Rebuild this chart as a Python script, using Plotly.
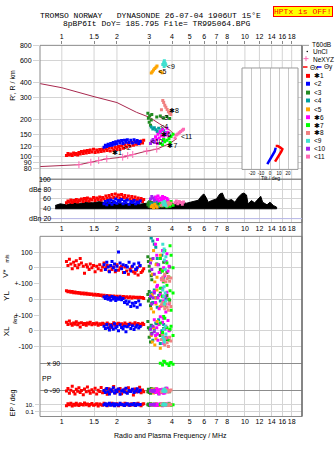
import math
import plotly.graph_objects as go

W, H = 335, 451

# ---------------- data ----------------
FREQ_TICKS = [1, 1.5, 2, 3, 4, 5, 6, 7, 8, 10, 12, 14, 16, 18]
FREQ_TICK_TEXT = ["1", "1.5", "2", "3", "4", "5", "6", "7", "8", "10", "12", "14", "16", "18"]
HEIGHT_TICKS = [80, 90, 100, 120, 150, 200, 300, 400, 600, 800]
DB_TICKS = [100, 80, 60, 40, 20]
DB_TICK_TEXT = ["100", "dBe 80", "60", "40", "dBn 20"]
V_TICKS, V_TICK_TEXT = [100, 0, -100], ["100", "0", "+-100"]
YL_TICKS, YL_TICK_TEXT = [0], ["0"]
XL_TICKS, XL_TICK_TEXT = [100, 0, -100], ["+-100", "0", "-100"]
PP_TICKS, PP_TICK_TEXT = [90, -90], ["x 90", "o -90"]
EP_TICKS, EP_TICK_TEXT = [10, 0.1], ["10.", "0.1"]
TILT_TICKS = [-20, -10, 0, 10, 20]
TILT_TICK_TEXT = ["-20", "-10", "0", "10", "20"]

# model curves (height panel)
UPPER_F = [0.76, 1.0, 1.5, 2.0, 2.56, 3.0, 3.43, 3.89, 4.14]
UPPER_H = [392, 363, 307, 275, 229, 209, 184, 164, 150]
LOWER_F = [0.76, 1.24, 1.44, 1.59, 1.76, 2.15, 2.44, 2.91, 3.30, 3.89, 4.24]
LOWER_H = [83, 86, 90, 93, 96, 99, 104, 111, 115, 128, 140]
NE_F = [1.24, 1.44, 1.59, 1.76, 2.15, 2.29, 2.44, 2.91, 3.30]
NE_H = [86, 90, 93, 96, 99, 102, 104, 111, 115]

# tilt inset
TILT_X_DEG = [6.3, 8.6, 11.1, 13.7, 12.6, 10.3, 7.8, 5.6]
TILT_X_H = [122, 122, 119, 115, 110, 103, 97, 91]
TILT_Y_DEG = [-3.0, 0.0, 2.6, 5.2, 6.3]
TILT_Y_H = [87, 94, 101, 110, 118]

# amplitude of unclassified echoes (dBe panel)
BLACK_F = [0.92, 0.98, 1.06, 1.15, 1.25, 1.37, 1.48, 1.61, 1.76, 1.91,
           2.07, 2.26, 2.45, 2.67, 2.90, 3.16, 3.43, 3.73, 4.06, 4.41,
           4.80, 5.21, 5.56, 5.81, 5.97, 6.13, 6.31, 6.58, 6.99, 7.29,
           7.53, 7.76, 8.10, 8.45, 8.82, 9.19, 9.59, 9.87, 10.2, 10.4,
           10.85, 11.3, 11.8, 12.2, 12.5, 13.2, 13.7, 14.3, 14.9]
BLACK_DB = [46.7, 50, 48, 52, 50.7, 53.3, 52, 54.7, 52, 53.3,
            51.3, 50, 52, 49.3, 51.3, 50, 53.3, 52, 50, 53.3,
            51.3, 54.7, 57.3, 66.7, 70, 63.3, 53.3, 56.7, 60, 70,
            72, 60, 56.7, 58.7, 53.3, 63.3, 70, 72, 68, 50,
            56.7, 52, 58.7, 65.3, 53.3, 48, 53.3, 46.7, 43.3]
BLACK_FLOOR = 40

# echo groups: f (MHz), h (km), amplitude (dB), V* (m/s), YL, XL (km), PP, EP (deg)
R_F = [1.06, 1.08, 1.10, 1.12, 1.14, 1.16, 1.18, 1.20, 1.22, 1.24, 1.26, 1.28,
       1.31, 1.33, 1.36, 1.38, 1.41, 1.43, 1.46, 1.49,
       1.52, 1.55, 1.58, 1.61, 1.64, 1.67, 1.70, 1.74, 1.77, 1.81,
       1.84, 1.88, 1.92, 1.96, 2.00, 2.04, 2.08, 2.12, 2.17, 2.21,
       2.26, 2.31, 2.36, 2.41, 2.46, 2.51, 2.56, 2.61, 2.66, 2.71, 2.76, 2.80]
R_H = [102, 106, 103, 105, 102, 107, 104, 106, 103, 108,
       105, 110, 106, 111, 107, 112, 108, 113, 109, 115,
       108, 113, 109, 114, 110, 115, 111, 116, 112, 118,
       111, 118, 113, 119, 114, 121, 115, 122, 117, 125,
       120, 128, 122, 130, 124, 132, 126, 133, 127, 134, 129, 136]
R_DB = [52, 56, 54, 58, 53, 57, 55, 59, 54, 58, 56, 60, 55, 61, 57, 62, 56, 60, 58, 63,
        57, 62, 59, 64, 58, 63, 60, 66, 61, 67, 62, 69, 63, 70, 64, 68, 62, 69, 63, 67,
        61, 66, 60, 65, 59, 64, 58, 62, 57, 61, 55, 59]
R_V = [40, 15, 55, 25, -5, 35, 15, 45, 0, 20, 60, 30, 10, -35, 20, 5, -10, 25, 0, 15,
       -25, 10, -5, 20, -15, 5, 30, 0, 15, -20, 10, -10, 5, -25, 20, -15, 0, 10, -30, 5,
       -20, -40, -10, 5, -25, -35, -15, -45, 10, -30, -20, -5]
R_YL = [55, 48, 52, 45, 50, 42, 46, 40, 44, 38, 42, 36, 40, 34, 38, 32, 36, 30, 34, 28,
        32, 26, 30, 24, 28, 22, 26, 20, 25, 18, 23, 16, 21, 15, 20, 14, 19, 12, 18, 11,
        17, 10, 16, 9, 15, 12, 14, 8, 13, 10, 12, 6]
R_XL = [55, 40, 62, 45, 35, 50, 42, 58, 38, 48, 25, 52, 40, 46, 36, 50, 44, 55, 38, 47,
        42, 50, 35, 45, 40, 48, 44, 38, 50, 42, 22, 40, 52, 36, 44, 48, 40, 45, 38, 50,
        42, 36, 48, 40, 44, 52, 38, 46, 42, 35, 48, 40]
R_PP = [-90, -75, -105, -85, -60, -95, -110, -80, -92, -70, -100, -88, -115, -78, -95, -65,
        -90, -105, -82, -98, -72, -110, -86, -94, -68, -102, -90, -80, -112, -76, -96, -88,
        -62, -104, -84, -92, -74, -108, -90, -80, -100, -70, -94, -86, -116, -78, -98, -90,
        -66, -102, -84, -96]
R_EP = [5, 18, 10, 28, 4, 14, 7, 24, 10, 6, 20, 12, 8, 30, 10, 16, 5, 12, 22, 7,
        10, 20, 4, 16, 10, 7, 26, 12, 5, 15, 10, 24, 7, 13, 20, 5, 10, 16, 8, 28,
        10, 13, 6, 20, 10, 7, 16, 24, 10, 5, 13, 18]

B_F = [1.70, 1.73, 1.76, 1.79, 1.82, 1.85, 1.88, 1.91, 1.94, 1.97, 2.00, 2.04, 2.08,
       2.12, 2.16, 2.20, 2.24, 2.28, 2.33, 2.38, 2.43, 2.48, 2.53, 2.58, 2.63, 2.68]
B_H = [119, 124, 121, 126, 123, 128, 124, 130, 126, 132, 127, 134, 129,
       135, 128, 136, 131, 137, 130, 136, 129, 137, 131, 135, 128, 133]
B_DB = [50, 55, 48, 57, 52, 58, 49, 56, 53, 60, 51, 57, 54, 59, 50, 56, 52, 58, 49, 55,
        53, 57, 50, 54, 52, 56]
B_V = [20, -10, 35, 5, -25, 15, 40, 0, 25, -15, 10, 100, 30, -5, 20, -30, 15, 5, 35, -20,
       10, 25, -10, 0, 30, 15]
B_YL = [15, 5, 20, 0, 10, -5, 18, 2, 12, -8, 8, 0, 14, -3, 6, -20, -10, -30, -15, -45,
        -25, -40, -20, -50, -10, -35]
B_XL = [30, 15, 40, 20, 5, 35, 25, 10, 45, 18, 28, 0, 38, 22, 12, 30, -5, 26, 40, 15,
        32, 8, 24, 36, 18, 28]
B_PP = [-88, -100, -75, -95, -110, -82, -92, -70, -104, -86, -96, -78, -112, -90, -84,
        -98, -72, -106, -88, -94, -80, -100, -90, -76, -96, -86]
B_EP = [10, 20, 6, 14, 25, 7, 12, 18, 5, 16, 10, 8, 24, 12, 10, 6, 16, 20, 7, 13,
        10, 22, 6, 15, 10, 12]

G_F = [2.95, 2.97, 3.00, 3.02, 3.05, 3.08, 3.10, 3.30, 3.45, 3.60, 3.75, 3.88]
G_H = [225, 205, 190, 215, 180, 198, 220, 210, 214, 206, 212, 204]
G_DB = [48, 52, 45, 55, 50, 47, 53, 50, 46, 52, 48, 51]
G_V = [70, 40, 10, -20, 55, -50, -75, 25, -10, 35, -30, 5]
G_YL = [30, -10, 50, 5, -40, 20, -25, 10, 40, -15, 25, -5]
G_XL = [60, 20, -40, 10, -70, 35, -15, 45, -30, 15, -55, 5]
G_PP = [-95, -80, -100, -88, -105, -75, -92, -85, -98, -90, -82, -96]
G_EP = [10, 16, 6, 12, 20, 8, 14, 10, 7, 18, 9, 12]

T_F = [3.08, 3.14, 3.20, 3.26, 3.32, 3.38, 3.45, 3.52, 3.60, 3.70]
T_H = [174, 168, 172, 165, 160, 170, 158, 166, 162, 156]
T_DB = [50, 46, 53, 48, 55, 45, 51, 49, 54, 47]
T_V = [190, 170, 150, 130, 60, 20, -30, 80, -60, 40]
T_YL = [40, -20, 60, 10, -50, 25, -10, 70, -35, 5]
T_XL = [30, -60, 10, 50, -20, 70, -80, 0, 40, -40]
T_PP = [-85, -95, -78, -100, -90, -108, -82, -94, -88, -72]
T_EP = [12, 8, 16, 10, 14, 6, 10, 20, 8, 12]

O_F = [3.08, 3.12, 3.17, 3.22, 3.27, 3.31, 3.45, 3.53]
O_H = [478, 490, 505, 520, 533, 545, 492, 480]
O_DB = [44, 47, 42, 49, 45, 43, 48, 46]
O_V = [50, -40, 110, -90, 20, -60, 80, -20]
O_YL = [-60, 30, -80, 10, -30, 60, -45, 20]
O_XL = [-30, -70, 20, -90, -50, 60, -110, -20]
O_PP = [-92, -80, -104, -88, -76, -98, -86, -100]
O_EP = [10, 14, 7, 12, 18, 10, 6, 13]

M_F = [3.20, 3.25, 3.30, 3.35, 3.40, 3.45, 3.50, 3.55, 3.60, 3.65, 3.70, 3.75, 3.80, 3.85, 3.33, 3.58]
M_H = [132, 145, 138, 152, 142, 160, 148, 165, 140, 155, 150, 170, 158, 146, 128, 135]
M_DB = [58, 64, 60, 66, 56, 62, 59, 65, 57, 63, 55, 61, 58, 54, 60, 62]
M_V = [230, 150, 80, 20, -30, 60, -70, 110, 0, -50, 40, 90, -20, 10, 180, -90]
M_YL = [50, -20, 80, 10, -60, 30, -40, 65, -10, 20, -80, 45, 0, -30, 90, 15]
M_XL = [70, -30, 20, -60, 40, 90, -10, 55, -80, 10, 30, -45, 65, 0, -20, 80]
M_PP = [-88, -100, -76, -94, -110, -84, -98, -80, -92, -104, -86, -72, -96, -90, -82, -106]
M_EP = [10, 6, 16, 8, 12, 20, 10, 5, 14, 8, 18, 10, 7, 24, 10, 9]

L_F = [3.45, 3.55, 3.65, 3.75, 3.85, 3.95, 4.05, 3.60, 3.90]
L_H = [128, 125, 132, 136, 140, 146, 152, 138, 130]
L_DB = [50, 46, 52, 44, 48, 55, 47, 51, 45]
L_V = [60, -20, 110, 30, -60, 80, 0, -90, 140]
L_YL = [70, 20, -40, 90, 0, -70, 40, -20, 55]
L_XL = [50, -10, 80, 20, -60, 30, -30, 95, 10]
L_PP = [90, 80, 100, 88, 76, 96, 84, 104, 92]
L_EP = [12, 8, 16, 10, 20, 7, 10, 14, 9]

S_F = [3.56, 3.60, 3.65, 3.70, 3.76, 3.82, 3.88, 3.94, 3.50]
S_H = [286, 275, 262, 252, 242, 232, 225, 220, 240]
S_DB = [52, 48, 55, 50, 46, 53, 49, 51, 47]
S_V = [-60, -80, -40, -90, -70, -55, -85, -65, -75]
S_YL = [-20, -40, -60, -30, -50, -70, -25, -45, -35]
S_XL = [-30, -60, -90, -45, -75, -100, -40, -65, -55]
S_PP = [-90, -86, -94, -80, -98, -88, -92, -84, -96]
S_EP = [10, 13, 8, 16, 10, 6, 13, 10, 18]

Q_F = [3.56, 3.60, 3.63, 3.67, 3.70, 3.62]
Q_H = [560, 580, 600, 575, 555, 540]
Q_DB = [52, 48, 55, 50, 46, 53]
Q_V = [150, 100, 50, -10, 70, 120]
Q_YL = [60, 20, -30, 40, -10, 80]
Q_XL = [-40, 10, -70, 30, -20, -55]
Q_PP = [-90, -84, -96, -88, -92, -80]
Q_EP = [10, 14, 8, 12, 10, 16]

P_F = [3.05, 3.10, 3.15, 3.20]
P_H = [128, 134, 138, 131]
P_DB = [60, 65, 62, 58]
P_V = [30, -10, 60, -40]
P_YL = [20, -30, 10, 40]
P_XL = [10, -20, 30, -5]
P_PP = [-90, -85, -95, -88]
P_EP = [10, 12, 8, 14]

K_F = [4.15, 4.22, 4.30, 4.38, 4.46, 4.55, 4.62]
K_H = [142, 150, 153, 156, 160, 164, 167]
K_DB = [52, 56, 50, 55, 53, 49, 54]

GROUP_NAMES = ["✱1", "<2", "<3", "<4", "<5", "✱6", "✱7", "✱8", "<9", "<10", "<11"]
GROUP_COLORS = ["#ff0000", "#0000ff", "#228b22", "#00a0a0", "#ffa500", "#ff00ff",
                "#00ff00", "#f08080", "#40e0d0", "#a020f0", "#ff69b4"]

# labels written next to the traces in the height panel
LABEL_TEXT = ["✱1", "<2", "<3", "<4", "✱6", "<10", "✱7", "✱8", "<5", "<9", "<11"]
LABEL_F = [2.00, 2.27, 3.62, 3.62, 3.72, 3.30, 4.02, 4.09, 3.54, 3.94, 4.80]
LABEL_H = [106, 118, 205, 172, 148, 130, 121, 235, 483, 534, 144]

GROUPS = [
    (R_F, R_H, R_DB, R_V, R_YL, R_XL, R_PP, R_EP),
    (B_F, B_H, B_DB, B_V, B_YL, B_XL, B_PP, B_EP),
    (G_F, G_H, G_DB, G_V, G_YL, G_XL, G_PP, G_EP),
    (T_F, T_H, T_DB, T_V, T_YL, T_XL, T_PP, T_EP),
    (O_F, O_H, O_DB, O_V, O_YL, O_XL, O_PP, O_EP),
    (M_F, M_H, M_DB, M_V, M_YL, M_XL, M_PP, M_EP),
    (L_F, L_H, L_DB, L_V, L_YL, L_XL, L_PP, L_EP),
    (S_F, S_H, S_DB, S_V, S_YL, S_XL, S_PP, S_EP),
    (Q_F, Q_H, Q_DB, Q_V, Q_YL, Q_XL, Q_PP, Q_EP),
    (P_F, P_H, P_DB, P_V, P_YL, P_XL, P_PP, P_EP),
    (K_F, K_H, K_DB, None, None, None, None, None),
]

# ---------------- layout constants ----------------
SANS = "Liberation Sans, Arial, sans-serif"
MONO = "Liberation Mono, DejaVu Sans Mono, monospace"
GRID = "#d4d4d4"
FRAME = "#8a8a8a"
CURVE = "#a8284e"

F_RANGE = [0.76, 20.5]
H_RANGE = [65.5, 802]
INSET_H_RANGE = [78.7, 525]
TILT_RANGE = [-31, 31]
L, R = 40, 302


def xd(a, b):
    return [a / W, b / W]


def yd(a, b):
    return [1 - b / H, 1 - a / H]


def lg(r):
    return [math.log10(r[0]), math.log10(r[1])]


def f_at_px(p):
    lo, hi = lg(F_RANGE)
    return 10 ** (lo + (p - L) / (R - L) * (hi - lo))


fig = go.Figure()


def sq(color, size=3):
    return dict(symbol="square", size=size, color=color, line=dict(width=0))


# vertical grid of height panel (interrupted by inset)
f_in_lo, f_in_hi = f_at_px(242), f_at_px(298)
gx, gy = [], []
for t in FREQ_TICKS:
    if f_in_lo <= t <= f_in_hi:
        gx += [t, t, None, t, t, None]
        gy += [H_RANGE[1], INSET_H_RANGE[1], None, INSET_H_RANGE[0], H_RANGE[0], None]
    else:
        gx += [t, t, None]
        gy += [H_RANGE[1], H_RANGE[0], None]
fig.add_trace(go.Scatter(x=gx, y=gy, mode="lines", line=dict(color=GRID, width=1),
                         xaxis="x", yaxis="y", hoverinfo="skip"))

# model curves
fig.add_trace(go.Scatter(x=UPPER_F, y=UPPER_H, mode="lines", line=dict(color=CURVE, width=1),
                         xaxis="x", yaxis="y", hoverinfo="skip"))
fig.add_trace(go.Scatter(x=LOWER_F, y=LOWER_H, mode="lines", line=dict(color=CURVE, width=1),
                         xaxis="x", yaxis="y", hoverinfo="skip"))
fig.add_trace(go.Scatter(x=NE_F, y=NE_H, mode="markers",
                         marker=dict(symbol="cross-thin-open", size=5, color="#ff69b4",
                                     line=dict(width=1, color="#ff69b4")),
                         xaxis="x", yaxis="y", hoverinfo="skip"))

# black amplitude envelope
fig.add_trace(go.Scatter(x=BLACK_F + BLACK_F[::-1], y=BLACK_DB + [BLACK_FLOOR] * len(BLACK_F),
                         mode="lines", fill="toself", fillcolor="black",
                         line=dict(color="black", width=1), xaxis="x2", yaxis="y2", hoverinfo="skip"))

for name, color, g in zip(GROUP_NAMES, GROUP_COLORS, GROUPS):
    f, h, db, v, yl, xl, pp, ep = g
    fig.add_trace(go.Scatter(x=f, y=h, mode="markers", marker=sq(color), xaxis="x", yaxis="y", hoverinfo="skip"))
    fig.add_trace(go.Scatter(x=f, y=db, mode="markers", marker=sq(color), xaxis="x2", yaxis="y2", hoverinfo="skip"))
    if v is None:
        continue
    for vals, ya in ((v, "y3"), (yl, "y4"), (xl, "y5"), (pp, "y6"), (ep, "y7")):
        fig.add_trace(go.Scatter(x=f, y=vals, mode="markers", marker=sq(color),
                                 xaxis="x3", yaxis=ya, hoverinfo="skip"))

fig.add_trace(go.Scatter(x=LABEL_F, y=LABEL_H, mode="text", text=LABEL_TEXT,
                         textfont=dict(size=7, color="black", family=SANS),
                         xaxis="x", yaxis="y", hoverinfo="skip"))

# tilt inset
fig.add_trace(go.Scatter(x=TILT_Y_DEG, y=TILT_Y_H, mode="lines", line=dict(color="#0000ff", width=2.5),
                         xaxis="x4", yaxis="y8", hoverinfo="skip"))
fig.add_trace(go.Scatter(x=TILT_X_DEG, y=TILT_X_H, mode="lines", line=dict(color="#ff0000", width=2.5),
                         xaxis="x4", yaxis="y8", hoverinfo="skip"))

tf = dict(family=SANS, size=7, color="black")
xcommon = dict(type="log", range=lg(F_RANGE), domain=xd(L, R), tickvals=FREQ_TICKS,
               ticktext=FREQ_TICK_TEXT, tickfont=tf, tickangle=0, zeroline=False, showline=False)
ycommon = dict(zeroline=False, showline=False, gridcolor=GRID, tickfont=tf,
               ticks="outside", ticklen=5, tickcolor=GRID)

fig.update_layout(
    width=W, height=H, margin=dict(l=0, r=0, t=0, b=0),
    paper_bgcolor="white", plot_bgcolor="white", showlegend=False,
    font=dict(family=SANS, size=7, color="black"),
    xaxis=dict(xcommon, anchor="y", side="top", showgrid=False, ticks="outside", ticklen=3, tickcolor="#888"),
    yaxis=dict(ycommon, type="log", range=lg(H_RANGE), domain=yd(42, 178), anchor="x",
               tickvals=HEIGHT_TICKS, ticktext=[str(t) for t in HEIGHT_TICKS], ticklen=6),
    xaxis2=dict(xcommon, anchor="y2", showgrid=True, gridcolor=GRID, ticks=""),
    yaxis2=dict(ycommon, range=[12, 100], domain=yd(178, 222), anchor="x2",
                tickvals=[40, 60, 80], showticklabels=False, ticks=""),
    xaxis3=dict(xcommon, anchor="y7", showgrid=True, gridcolor=GRID, ticks=""),
    yaxis3=dict(ycommon, range=[-100, 200], domain=yd(236, 284), anchor="x3",
                tickvals=V_TICKS, ticktext=V_TICK_TEXT),
    yaxis4=dict(ycommon, range=[-100, 100], domain=yd(284, 316), anchor="x3",
                tickvals=YL_TICKS, ticktext=YL_TICK_TEXT),
    yaxis5=dict(ycommon, range=[-150, 100], domain=yd(316, 356), anchor="x3",
                tickvals=XL_TICKS, ticktext=XL_TICK_TEXT),
    yaxis6=dict(ycommon, range=[-135, 148], domain=yd(356, 400), anchor="x3",
                tickvals=PP_TICKS, showticklabels=False, ticks="", gridcolor="#8c8c8c"),
    yaxis7=dict(ycommon, type="log", range=[math.log10(0.0037), 3], domain=yd(400, 419), anchor="x3",
                tickvals=EP_TICKS, ticktext=EP_TICK_TEXT, tickfont=dict(family=SANS, size=6, color="black"),
                ticklen=4),
    xaxis4=dict(range=TILT_RANGE, domain=xd(242, 298), anchor="y8", tickvals=TILT_TICKS,
                ticktext=TILT_TICK_TEXT, tickangle=0, showgrid=True, gridcolor="#c8c8c8",
                zeroline=False, ticks="", tickfont=dict(family=SANS, size=4.5, color="black")),
    yaxis8=dict(type="log", range=lg(INSET_H_RANGE), domain=yd(65, 168), anchor="x4",
                showgrid=False, showticklabels=False, zeroline=False, ticks=""),
)

# ---------------- frames & legend shapes ----------------
shapes = []


def rect(x0, y0, x1, y1, color=FRAME, fill=None, width=1, layer="above"):
    shapes.append(dict(type="rect", xref="paper", yref="paper", x0=x0 / W, x1=x1 / W,
                       y0=1 - y0 / H, y1=1 - y1 / H, line=dict(color=color, width=width),
                       fillcolor=fill, layer=layer))


def seg(x0, y0, x1, y1, color, width=1):
    shapes.append(dict(type="line", xref="paper", yref="paper", x0=x0 / W, x1=x1 / W,
                       y0=1 - y0 / H, y1=1 - y1 / H, line=dict(color=color, width=width), layer="above"))


rect(L, 42, R, 178)
rect(L, 178, R, 222)
rect(L, 236, R, 419)
rect(242, 65, 298, 168, color="#9a9a9a")
seg(R, 42, R, 419, "#707070", 1.5)
shapes.append(dict(type="line", xref="paper", yref="y2", x0=L / W, x1=R / W, y0=20, y1=20,
                   line=dict(color="#b4b4e6", width=1), layer="above"))

# legend samples
seg(302, 42, 309, 42, "#999999", 1)
shapes.append(dict(type="circle", xref="paper", yref="paper", x0=306.5 / W, x1=308 / W,
                   y0=1 - 49 / H, y1=1 - 47.5 / H, fillcolor="black", line=dict(width=0)))
seg(303.5, 55.5, 308.5, 55.5, "#ff69b4", 1)
seg(306, 53, 306, 58, "#ff69b4", 1)
seg(303, 64, 307.5, 64, "#ff0000", 1.5)
seg(317, 64, 321.5, 64, "#0000ff", 1.5)
LEG_Y = [73, 81, 90, 98, 107, 115, 123, 131, 139, 147, 155]
for y, c in zip(LEG_Y, GROUP_COLORS):
    rect(306, y - 2, 310, y + 2, color=c, fill=c, width=0)

# ---------------- annotations ----------------
ann = []


def text(x, y, s, size=7, xanchor="center", angle=0, family=SANS, color="black", yref="paper", **kw):
    ann.append(dict(x=x / W, y=(1 - y / H) if yref == "paper" else y, xref="paper", yref=yref,
                    text=s, showarrow=False, xanchor=xanchor, yanchor="middle", textangle=angle,
                    font=dict(size=size, family=family, color=color), **kw))


NB = "\u00a0"
text(150, 12, "TROMSO NORWAY" + NB * 3 + "DYNASONDE 26-07-04 1906UT 15°E", size=8, family=MONO)
text(156, 20, "8pBP6It DoY= 185.795 File= TR995064.BPG", size=8, family=MONO)
text(302.5, 7.5, "HPTx is OFF!", size=8, family=MONO, color="#ff0000",
     bgcolor="#ffff00", bordercolor="#ff0000", borderwidth=1, borderpad=0)

text(13, 83, "R', R / km", size=7, angle=-90)
text(6, 274, "V*", size=8, angle=-90)
text(6.5, 258, "m/s", size=5, angle=-90)
text(6.5, 297, "YL", size=8, angle=-90)
text(15, 321, "/km", size=5.5, angle=-90)
text(6.5, 333, "XL", size=8, angle=-90)
text(12.5, 405, "EP / deg", size=7, angle=-90)
text(46.5, 380, "PP", size=7)
text(170, 439, "Radio and Plasma Frequency / MHz", size=7)
text(270, 176.5, "Tilt / deg", size=5)

for v, s in zip(DB_TICKS, DB_TICK_TEXT):
    ann.append(dict(x=53 / W, y=v, xref="paper", yref="y2", text=s, showarrow=False,
                    xanchor="right", yanchor="middle", font=dict(size=7, family=SANS, color="black")))
for v, s in zip(PP_TICKS, PP_TICK_TEXT):
    ann.append(dict(x=62 / W, y=v, xref="paper", yref="y6", text=s, showarrow=False,
                    xanchor="right", yanchor="middle", font=dict(size=7, family=SANS, color="black")))

# legend texts
text(310, 41.5, "T60dB", size=6.5, xanchor="left")
text(311, 48.5, "UnCl", size=6.5, xanchor="left")
text(311, 56, "NeXYZ", size=6.5, xanchor="left")
text(308, 64, "Θx", size=6.5, xanchor="left")
text(322, 64, "Θy", size=6.5, xanchor="left")
for y, s in zip(LEG_Y, GROUP_NAMES):
    text(312, y, s, size=6.5, xanchor="left")

fig.update_layout(shapes=shapes, annotations=ann)
fig.write_html("out.html", config={"displayModeBar": False})
